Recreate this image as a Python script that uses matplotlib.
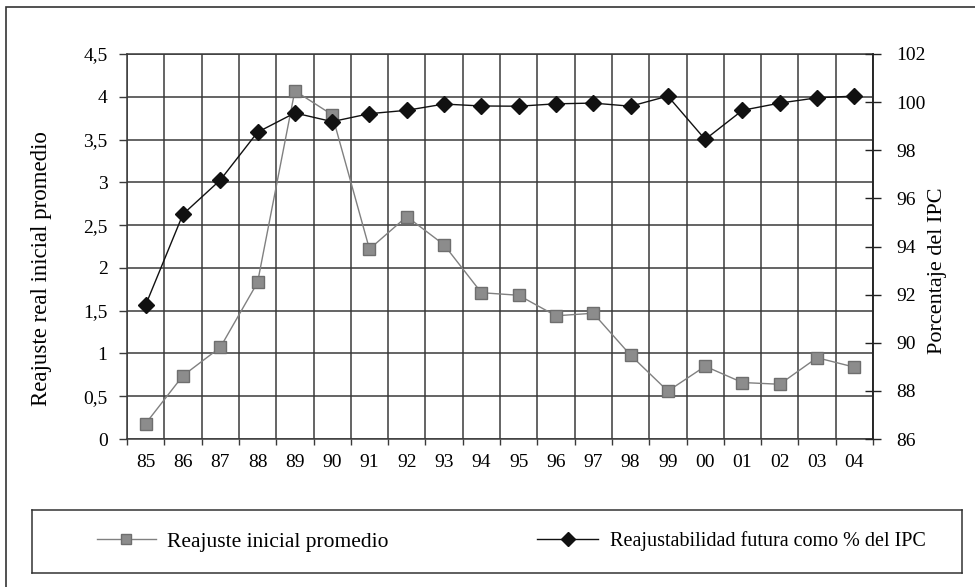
import matplotlib
matplotlib.use('Agg')
import matplotlib.pyplot as plt
from matplotlib.lines import Line2D
from matplotlib.patches import Rectangle

plt.rcParams['font.family'] = ['Liberation Serif', 'DejaVu Serif']

# data
years = ['85', '86', '87', '88', '89', '90', '91', '92', '93', '94',
         '95', '96', '97', '98', '99', '00', '01', '02', '03', '04']
reajuste = [0.18, 0.74, 1.07, 1.83, 4.07, 3.79, 2.22, 2.60, 2.27, 1.71,
            1.68, 1.44, 1.47, 0.98, 0.56, 0.85, 0.66, 0.64, 0.95, 0.84]
ipc = [91.57, 95.34, 96.76, 98.75, 99.55, 99.19, 99.52, 99.66, 99.92, 99.84,
       99.83, 99.93, 99.96, 99.83, 100.25, 98.45, 99.66, 99.96, 100.18, 100.25]
left_ticks = [0, 0.5, 1, 1.5, 2, 2.5, 3, 3.5, 4, 4.5]
left_labels = ['0', '0,5', '1', '1,5', '2', '2,5', '3', '3,5', '4', '4,5']
right_ticks = [86, 88, 90, 92, 94, 96, 98, 100, 102]

label_a = 'Reajuste inicial promedio'
label_b = 'Reajustabilidad futura como % del IPC'

W, H = 975, 587
fig = plt.figure(figsize=(W / 100, H / 100), dpi=100)

# outer frame (runs off the right and bottom of the picture)
fig.patches.append(Rectangle((6 / W, -0.2), 1.5, 0.2 + (H - 7) / H,
                             transform=fig.transFigure, fill=False,
                             edgecolor='#333333', lw=1.2))

ax = fig.add_axes([127 / W, (H - 439) / H, 746 / W, 385 / H])
x = [i + 0.5 for i in range(len(years))]
grid_c = '#3a3a3a'

ax.set_xlim(0, len(years))
ax.set_ylim(0, 4.5)
ax.set_xticks(range(len(years) + 1))
ax.set_xticklabels([])
ax.set_xticks(x, minor=True)
ax.set_xticklabels(years, minor=True)
ax.tick_params(axis='x', which='major', direction='out', length=4.5,
               color=grid_c, width=1)
ax.tick_params(axis='x', which='minor', length=0, pad=11, labelsize=14)
ax.set_yticks(left_ticks)
ax.set_yticklabels(left_labels)
ax.tick_params(axis='y', direction='out', length=6, pad=8, labelsize=14,
               color=grid_c, width=1)
ax.grid(True, which='major', color=grid_c, lw=1.1)
for s in ax.spines.values():
    s.set_color(grid_c)
    s.set_linewidth(1.1)

ax.plot(x, reajuste, color='#808080', lw=1, marker='s', ms=8,
        markerfacecolor='#8c8c8c', markeredgecolor='#6e6e6e', zorder=3)
ax.set_ylabel('Reajuste real inicial promedio', fontsize=16.5)
ax.yaxis.set_label_coords(-0.1005, 0.442)

ax2 = ax.twinx()
ax2.set_ylim(86, 102)
ax2.set_yticks(right_ticks)
ax2.tick_params(axis='y', direction='inout', length=11, pad=11,
                labelsize=14, color='#222222', width=1)
ax2.spines['right'].set_color('#222222')
ax2.spines['right'].set_linewidth(1.2)
for s in ['left', 'top', 'bottom']:
    ax2.spines[s].set_visible(False)
ax2.plot(x, ipc, color='#111111', lw=1, marker='D', ms=8,
         markerfacecolor='#111111', markeredgecolor='#111111', zorder=4)
ax2.set_ylabel('Porcentaje del IPC', fontsize=16)
ax2.yaxis.set_label_coords(1.0737, 0.437)

# legend box
lax = fig.add_axes([32 / W, (H - 573) / H, 930 / W, 63 / H])
lax.set_xticks([])
lax.set_yticks([])
for s in lax.spines.values():
    s.set_color('#333333')
    s.set_linewidth(1.1)

h1 = Line2D([], [], color='#808080', lw=1, marker='s', ms=7,
            markerfacecolor='#8c8c8c', markeredgecolor='#6e6e6e')
h2 = Line2D([], [], color='#111111', lw=1, marker='D', ms=7,
            markerfacecolor='#111111')
leg1 = lax.legend([h1], [label_a], loc='center left',
                  bbox_to_anchor=((103 - 32) / 930 - 0.006, 0.5),
                  frameon=False, fontsize=15.5, handlelength=2.7,
                  handletextpad=0.55, borderaxespad=0, borderpad=0)
lax.add_artist(leg1)
lax.legend([h2], [label_b], loc='center left',
           bbox_to_anchor=((543 - 32) / 930 - 0.006, 0.5),
           frameon=False, fontsize=14.5, handlelength=3.0,
           handletextpad=0.6, borderaxespad=0, borderpad=0)

fig.savefig('out.png', dpi=100)
